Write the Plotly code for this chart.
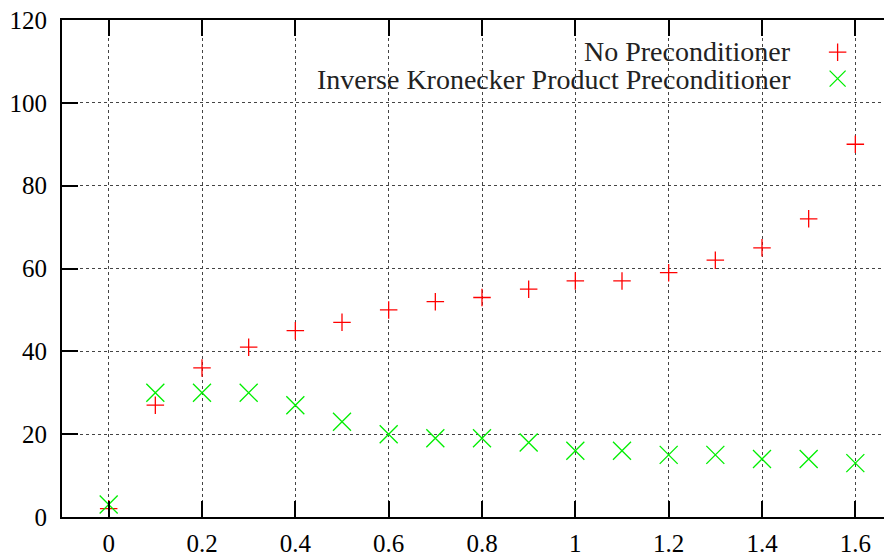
import plotly.graph_objects as go

x_vals = [0.0, 0.1, 0.2, 0.3, 0.4, 0.5, 0.6, 0.7, 0.8, 0.9, 1.0, 1.1, 1.2, 1.3, 1.4, 1.5, 1.6]
no_precond = [2, 27, 36, 41, 45, 47, 50, 52, 53, 55, 57, 57, 59, 62, 65, 72, 90]
kron_precond = [3, 30, 30, 30, 27, 23, 20, 19, 19, 18, 16, 16, 15, 15, 14, 14, 13]
series_names = ["No Preconditioner", "Inverse Kronecker Product Preconditioner"]
x_ticks = [0, 0.2, 0.4, 0.6, 0.8, 1.0, 1.2, 1.4, 1.6]
x_tick_labels = ["0", "0.2", "0.4", "0.6", "0.8", "1", "1.2", "1.4", "1.6"]
y_ticks = [0, 20, 40, 60, 80, 100, 120]

FONT = "Liberation Serif"
OFF = 8                      # default page (body) margin
VW, VH = 892, 554            # browser window
# plot area in window pixels
P_LEFT, P_RIGHT, P_TOP, P_BOTTOM = 62.3, 902.4, 20, 517
W = 900
H = VH - OFF
ML = P_LEFT - OFF
MR = W - (P_RIGHT - OFF)
MT = P_TOP - OFF
MB = H - (P_BOTTOM - OFF)
PW = P_RIGHT - P_LEFT
PH = P_BOTTOM - P_TOP

def px_to_paper_x(px):
    return (px - P_LEFT) / PW

def px_to_paper_y(py):
    return (P_BOTTOM - py) / PH

fig = go.Figure()
fig.add_trace(go.Scatter(
    x=x_vals, y=no_precond, mode="markers", name=" ",
    marker=dict(symbol="cross-thin", size=12.5, color="#ff0000",
                line=dict(color="#ff0000", width=1.3)),
))
fig.add_trace(go.Scatter(
    x=x_vals, y=kron_precond, mode="markers", name=" ",
    marker=dict(symbol="x-thin", size=18, color="#00ee00",
                line=dict(color="#00ee00", width=1.3)),
))

fig.update_layout(
    width=W, height=H,
    margin=dict(l=ML, r=MR, t=MT, b=MB, pad=0, autoexpand=False),
    paper_bgcolor="white", plot_bgcolor="white",
    font=dict(family=FONT, size=25, color="black"),
    showlegend=True,
    legend=dict(
        x=px_to_paper_x(818), xanchor="left",
        y=px_to_paper_y(34), yanchor="top",
        bgcolor="rgba(0,0,0,0)", borderwidth=0,
        font=dict(family=FONT, size=18),
        itemwidth=30, tracegroupgap=0,
    ),
    xaxis=dict(
        range=[-0.1, 1.7], tickmode="array", tickvals=x_ticks,
        ticktext=x_tick_labels, ticks="inside", ticklen=16, tickwidth=2,
        tickcolor="black", showline=True, linewidth=2, linecolor="black",
        mirror="ticks", showgrid=True, gridcolor="#444444", gridwidth=1,
        griddash="3px,3px", zeroline=False, ticklabelstandoff=3,
        automargin=False, ticklabeloverflow="allow",
        tickfont=dict(family=FONT, size=25),
    ),
    yaxis=dict(
        range=[0, 120], tickmode="array", tickvals=y_ticks,
        ticks="inside", ticklen=16, tickwidth=2, tickcolor="black",
        showline=True, linewidth=2, linecolor="black", mirror="ticks",
        showgrid=True, gridcolor="#444444", gridwidth=1, griddash="3px,3px",
        zeroline=False, ticklabelstandoff=8, automargin=False,
        ticklabeloverflow="allow",
        tickfont=dict(family=FONT, size=25),
    ),
)

# white legend area hiding the grid
fig.add_shape(type="rect", xref="paper", yref="paper",
              x0=px_to_paper_x(290), x1=1.0,
              y0=px_to_paper_y(92), y1=px_to_paper_y(38),
              fillcolor="white", line=dict(width=0), layer="between")

for name, py in zip(series_names, [52, 79]):
    fig.add_annotation(text=name, xref="paper", yref="paper",
                       x=px_to_paper_x(793), xanchor="right",
                       y=px_to_paper_y(py), yanchor="middle",
                       showarrow=False, font=dict(family=FONT, size=28, color="#222222"))

fig.write_html("out.html")
